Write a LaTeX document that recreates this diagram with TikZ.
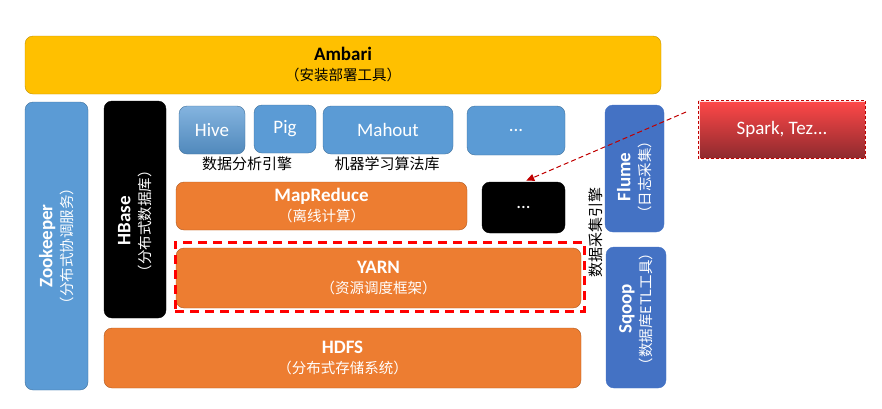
\documentclass[tikz,border=0pt]{standalone}
\usepackage{fontspec}
\setmainfont{Carlito}
\newfontfamily\cjk{Noto Sans CJK SC}
\usetikzlibrary{arrows.meta,calc}
\newcommand\mytitle[1]{{\fontsize{19}{20}\selectfont\bfseries #1}}
\newcommand\mysubt[1]{{\cjk\fontsize{14.5}{20}\selectfont #1}}
\definecolor{amb}{HTML}{FFC000}
\definecolor{ambd}{HTML}{C09000}
\definecolor{lblue}{HTML}{5B9BD5}
\definecolor{lblued}{HTML}{41719C}
\definecolor{dblue}{HTML}{4472C4}
\definecolor{org}{HTML}{ED7D31}
\definecolor{orgd}{HTML}{AE5A21}
\definecolor{sparktop}{HTML}{FF4848}
\definecolor{sparkmid}{HTML}{E03C3C}
\definecolor{sparkbot}{HTML}{8E2A2E}
\definecolor{sparkedge}{HTML}{C00000}
\begin{document}
\begin{tikzpicture}[x=1pt,y=-1pt,
  box/.style={draw, rounded corners=8pt, inner sep=0pt, align=center, text=white,
    font=\fontsize{19}{20}\selectfont},
  ambbox/.style={box, fill=amb, draw=ambd, text=black},
  bluebox/.style={box, fill=lblue, draw=lblued},
  dbluebox/.style={box, fill=dblue, draw=dblue},
  orgbox/.style={box, fill=org, draw=orgd},
  blkbox/.style={box, fill=black, draw=black},
  vtext/.style={rotate=90, align=center, text=white, font=\fontsize{19}{20}\selectfont, inner sep=0pt},
  lbl/.style={font=\cjk\fontsize{15}{18}\selectfont, inner sep=0pt},
]
\useasboundingbox (0,0) rectangle (882,408);

\node[ambbox, minimum width=636pt, minimum height=58pt] (ambari) at (343,65)
  {\mytitle{Ambari}\\\mysubt{（安装部署工具）}};

\node[bluebox, minimum width=63pt, minimum height=288pt] (zk) at (56.5,246) {};
\node[vtext] (zkt) at (56.5,246) {\mytitle{Zookeeper}\\\mysubt{（分布式协调服务）}};

\node[blkbox, minimum width=62pt, minimum height=217pt] (hbase) at (135,209.5) {};
\node[vtext] (hbaset) at (135,221) {\mytitle{HBase}\\\mysubt{（分布式数据库）}};

\node[box, draw=lblued, top color=lblue!75!white, bottom color=lblue!88!black,
  minimum width=66pt, minimum height=48pt] (hive) at (212,130) {Hive};
\node[bluebox, minimum width=62pt, minimum height=48pt] (pig) at (285,129) {Pig};
\node[bluebox, minimum width=130pt, minimum height=48pt] (mahout) at (388,130) {Mahout};
\node[bluebox, minimum width=98pt, minimum height=49pt] (dots1) at (516,130.5) {...};

\node[lbl] (lab1) at (247,164) {数据分析引擎};
\node[lbl] (lab2) at (387,164) {机器学习算法库};

\node[orgbox, minimum width=291pt, minimum height=48pt] (mr) at (321.5,206)
  {\mytitle{MapReduce}\\\mysubt{（离线计算）}};
\node[blkbox, minimum width=83pt, minimum height=51pt] (dots2) at (523.5,207.5) {...};

\node[orgbox, minimum width=405pt, minimum height=60pt] (yarn) at (378.5,278)
  {\mytitle{YARN}\\\mysubt{（资源调度框架）}};
\node[draw=red, line width=3pt, dash pattern=on 9pt off 6pt, inner sep=0pt,
  minimum width=409pt, minimum height=69pt] (yarnframe) at (379.5,276.5) {};

\node[orgbox, minimum width=477pt, minimum height=60pt] (hdfs) at (342.5,358)
  {\mytitle{HDFS}\\\mysubt{（分布式存储系统）}};

\node[lbl, rotate=90] (lab3) at (596,232) {数据采集引擎};

\node[dbluebox, minimum width=59pt, minimum height=127pt] (flume) at (634.5,168.5) {};
\node[vtext] (flumet) at (634.5,177) {\mytitle{Flume}\\\mysubt{（日志采集）}};

\node[dbluebox, minimum width=60pt, minimum height=141pt] (sqoop) at (636,317.5) {};
\node[vtext] (sqoopt) at (636,309) {\mytitle{Sqoop}\\\mysubt{（数据库ETL工具）}};

\node[draw=white!85!red, line width=1pt, top color=sparktop, middle color=sparkmid,
  bottom color=sparkbot,
  inner sep=0pt, minimum width=166pt, minimum height=57pt, text=white,
  font=\fontsize{19}{20}\selectfont] (spark) at (782,129.5) {Spark, Tez...};
\draw[sparkedge, line width=1pt, dash pattern=on 3pt off 2pt]
  (spark.north west) rectangle (spark.south east);

\coordinate (arrstart) at (686,112);
\draw[sparkedge, line width=1pt, dash pattern=on 5pt off 3pt,
  -{Triangle[length=8pt,width=7pt]}, shorten >=3pt] (arrstart) -- (dots2.north);
\end{tikzpicture}
\end{document}
